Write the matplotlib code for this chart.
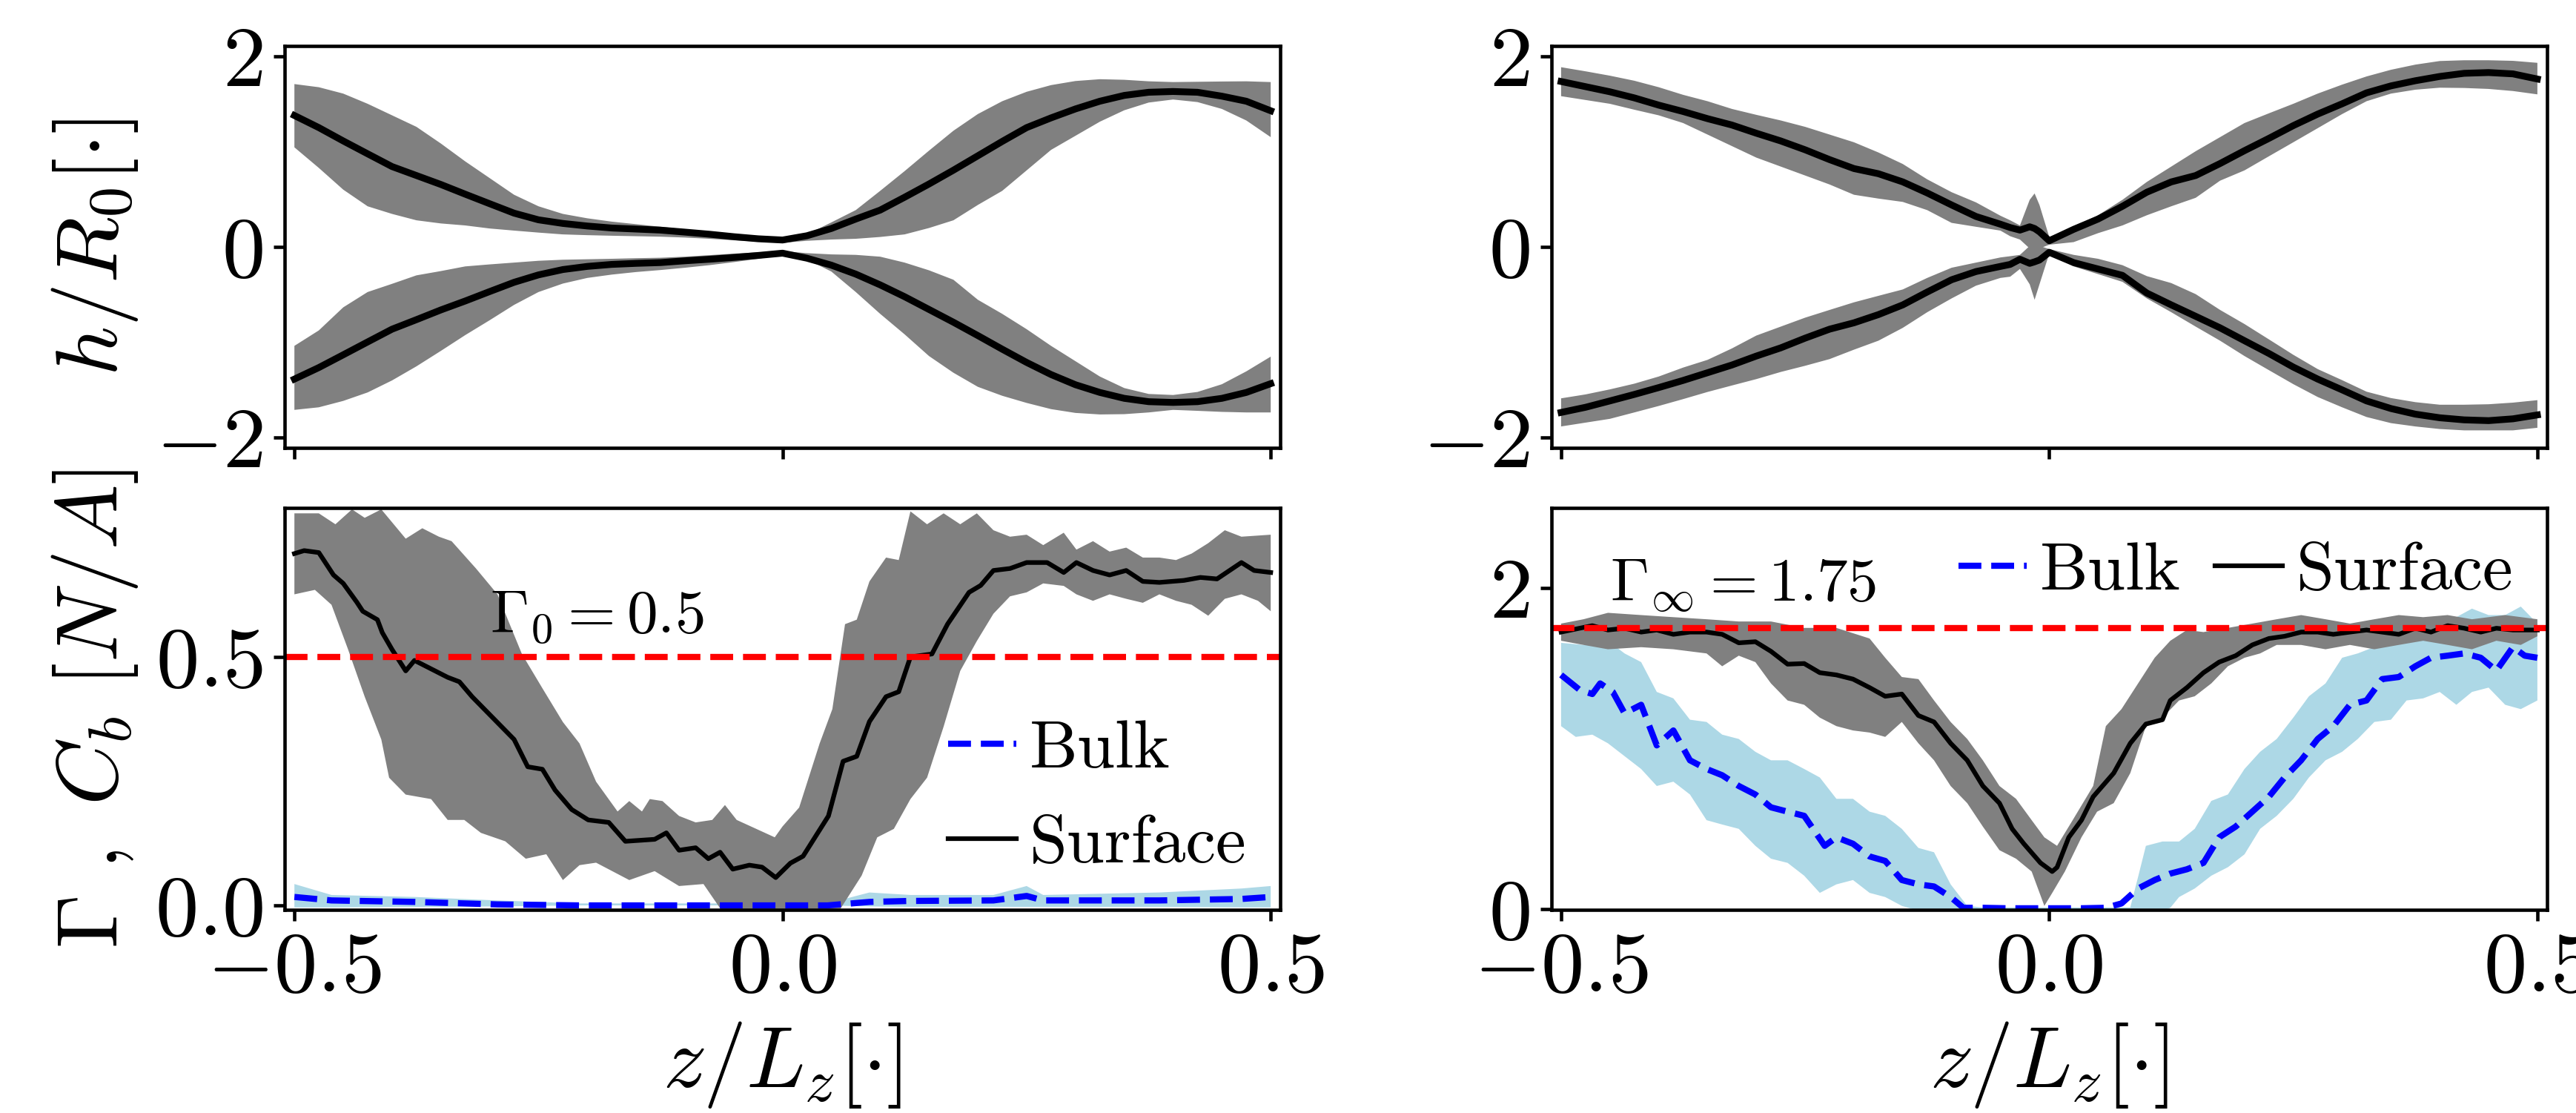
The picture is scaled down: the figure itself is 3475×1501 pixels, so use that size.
import matplotlib
matplotlib.use('Agg')
import matplotlib.pyplot as plt
import numpy as np

# latex-like look without a tex install
plt.rcParams['font.family'] = 'serif'
plt.rcParams['font.serif'] = ['cmr10', 'DejaVu Serif']
plt.rcParams['mathtext.fontset'] = 'cm'
plt.rcParams['axes.linewidth'] = 1.1
plt.rcParams['xtick.major.width'] = 1.1
plt.rcParams['ytick.major.width'] = 1.1

# ---- top left : interface shape, Gamma_0 = 0.5 ----
zL = [-0.5, -0.475, -0.45, -0.425, -0.4, -0.375, -0.35, -0.325, -0.3, -0.275, -0.25,
      -0.225, -0.2, -0.175, -0.15, -0.125, -0.1, -0.075, -0.05, -0.025, 0.0,
      0.025, 0.05, 0.075, 0.1, 0.125, 0.15, 0.175, 0.2, 0.225, 0.25,
      0.275, 0.3, 0.325, 0.35, 0.375, 0.4, 0.425, 0.45, 0.475, 0.5]
hL_up = [1.38, 1.253, 1.113, 0.978, 0.844, 0.75, 0.656, 0.554, 0.454, 0.355, 0.285,
         0.247, 0.22, 0.199, 0.188, 0.177, 0.156, 0.134, 0.108, 0.086, 0.073,
         0.118, 0.194, 0.293, 0.387, 0.522, 0.661, 0.806, 0.957, 1.108, 1.253,
         1.355, 1.449, 1.53, 1.591, 1.624, 1.632, 1.624, 1.583, 1.53, 1.43]
hL_up_hi = [1.71, 1.677, 1.61, 1.503, 1.382, 1.261, 1.086, 0.898, 0.723, 0.548, 0.427,
            0.347, 0.301, 0.266, 0.239, 0.212, 0.185, 0.164, 0.132, 0.097, 0.08,
            0.132, 0.258, 0.387, 0.589, 0.796, 1.011, 1.22, 1.395, 1.53, 1.629,
            1.699, 1.742, 1.761, 1.755, 1.739, 1.731, 1.734, 1.737, 1.739, 1.731]
hL_up_lo = [1.046, 0.83, 0.602, 0.427, 0.347, 0.28, 0.247, 0.226, 0.194, 0.172, 0.151,
            0.132, 0.124, 0.118, 0.113, 0.108, 0.099, 0.086, 0.07, 0.056, 0.043,
            0.065, 0.078, 0.086, 0.105, 0.132, 0.199, 0.28, 0.441, 0.589, 0.804,
            1.019, 1.167, 1.315, 1.435, 1.516, 1.548, 1.521, 1.449, 1.328, 1.153]
hL_dn = [-1.387, -1.266, -1.132, -0.997, -0.863, -0.763, -0.661, -0.567, -0.468, -0.371, -0.293,
         -0.237, -0.204, -0.183, -0.172, -0.164, -0.145, -0.129, -0.11, -0.089, -0.065,
         -0.118, -0.191, -0.285, -0.398, -0.522, -0.656, -0.79, -0.93, -1.073, -1.212,
         -1.339, -1.446, -1.527, -1.589, -1.624, -1.632, -1.624, -1.589, -1.527, -1.435]
hL_dn_out = [-1.71, -1.683, -1.616, -1.527, -1.401, -1.253, -1.091, -0.925, -0.769, -0.608, -0.473,
             -0.384, -0.325, -0.29, -0.263, -0.242, -0.218, -0.191, -0.159, -0.124, -0.083,
             -0.13, -0.258, -0.473, -0.702, -0.917, -1.145, -1.32, -1.468, -1.562, -1.637,
             -1.702, -1.742, -1.758, -1.755, -1.737, -1.71, -1.72, -1.731, -1.737, -1.737]
hL_dn_in = [-1.038, -0.876, -0.634, -0.473, -0.387, -0.298, -0.253, -0.204, -0.183, -0.164, -0.145,
            -0.134, -0.129, -0.124, -0.118, -0.113, -0.102, -0.086, -0.07, -0.056, -0.043,
            -0.065, -0.078, -0.083, -0.102, -0.164, -0.245, -0.344, -0.554, -0.702, -0.863,
            -1.038, -1.199, -1.36, -1.481, -1.543, -1.554, -1.522, -1.441, -1.306, -1.151]

# ---- top right : interface shape, Gamma_inf = 1.75 ----
zR = [-0.5, -0.475, -0.45, -0.425, -0.4, -0.375, -0.35, -0.325, -0.3, -0.275, -0.25,
      -0.225, -0.2, -0.175, -0.15, -0.125, -0.1, -0.075, -0.05,
      -0.04, -0.03, -0.02, -0.015, -0.01, 0.0,
      0.025, 0.05, 0.075, 0.1, 0.125, 0.15, 0.175, 0.2, 0.225, 0.25,
      0.275, 0.3, 0.325, 0.35, 0.375, 0.4, 0.425, 0.45, 0.475, 0.5]
hR_up = [1.737, 1.683, 1.629, 1.565, 1.489, 1.422, 1.347, 1.28, 1.194, 1.113, 1.02,
         0.917, 0.823, 0.769, 0.683, 0.567, 0.441, 0.32, 0.239,
         0.204, 0.177, 0.212, 0.194, 0.159, 0.065,
         0.185, 0.293, 0.427, 0.575, 0.683, 0.75, 0.876, 1.011, 1.14, 1.274,
         1.395, 1.503, 1.618, 1.691, 1.745, 1.79, 1.823, 1.831, 1.817, 1.763]
hR_up_hi = [1.887, 1.844, 1.798, 1.745, 1.677, 1.597, 1.53, 1.449, 1.387, 1.328, 1.261,
            1.18, 1.099, 0.992, 0.871, 0.71, 0.575, 0.468, 0.328,
            0.28, 0.226, 0.495, 0.562, 0.441, 0.105,
            0.212, 0.333, 0.495, 0.683, 0.844, 1.005, 1.153, 1.301, 1.403, 1.503,
            1.61, 1.704, 1.79, 1.86, 1.914, 1.952, 1.96, 1.96, 1.954, 1.933]
hR_up_lo = [1.583, 1.543, 1.503, 1.441, 1.382, 1.301, 1.18, 1.059, 0.938, 0.844, 0.75,
            0.656, 0.548, 0.508, 0.473, 0.387, 0.253, 0.212, 0.172,
            0.113, 0.078, -0.016, -0.043, -0.016, 0.024,
            0.051, 0.145, 0.226, 0.333, 0.427, 0.516, 0.696, 0.804, 0.952, 1.099,
            1.247, 1.395, 1.53, 1.61, 1.651, 1.672, 1.669, 1.659, 1.637, 1.602]
hR_dn = [-1.737, -1.683, -1.616, -1.548, -1.476, -1.401, -1.32, -1.239, -1.145, -1.059, -0.957,
         -0.863, -0.796, -0.71, -0.608, -0.473, -0.344, -0.258, -0.204,
         -0.183, -0.129, -0.172, -0.156, -0.137, -0.056,
         -0.164, -0.231, -0.298, -0.484, -0.608, -0.728, -0.849, -0.984, -1.118, -1.261,
         -1.387, -1.5, -1.616, -1.696, -1.755, -1.793, -1.815, -1.823, -1.804, -1.763]
hR_dn_out = [-1.884, -1.844, -1.804, -1.737, -1.669, -1.597, -1.522, -1.454, -1.387, -1.312, -1.247,
             -1.177, -1.078, -0.984, -0.849, -0.685, -0.54, -0.406, -0.325,
             -0.312, -0.231, -0.392, -0.554, -0.392, -0.07,
             -0.204, -0.285, -0.366, -0.54, -0.685, -0.836, -0.984, -1.145, -1.293, -1.44,
             -1.575, -1.683, -1.785, -1.849, -1.884, -1.911, -1.925, -1.925, -1.925, -1.898]
hR_dn_in = [-1.589, -1.548, -1.495, -1.435, -1.36, -1.266, -1.185, -1.065, -0.93, -0.836, -0.742,
            -0.661, -0.581, -0.513, -0.446, -0.325, -0.218, -0.164, -0.11,
            -0.097, -0.083, 0.011, 0.038, 0.011, -0.022,
            -0.083, -0.124, -0.191, -0.306, -0.379, -0.495, -0.661, -0.809, -0.97, -1.132,
            -1.282, -1.398, -1.519, -1.586, -1.629, -1.656, -1.656, -1.651, -1.634, -1.608]

# ---- bottom left : surface / bulk concentration, Gamma_0 = 0.5 ----
zs_L = [-0.5, -0.49, -0.475, -0.46, -0.45, -0.436, -0.43, -0.415, -0.41, -0.4, -0.386,
        -0.377, -0.36, -0.343, -0.331, -0.318, -0.301, -0.275, -0.261, -0.246, -0.233,
        -0.216, -0.199, -0.178, -0.161, -0.131, -0.119, -0.106, -0.089, -0.076, -0.064,
        -0.051, -0.034, -0.021, -0.007, 0.008, 0.021, 0.047, 0.062, 0.076, 0.089, 0.106,
        0.119, 0.131, 0.153, 0.169, 0.191, 0.203, 0.216, 0.233, 0.25, 0.271, 0.288, 0.301,
        0.318, 0.335, 0.352, 0.369, 0.386, 0.411, 0.428, 0.445, 0.47, 0.483, 0.5]
surf_L = [0.708, 0.714, 0.71, 0.665, 0.648, 0.61, 0.592, 0.575, 0.549, 0.515, 0.472,
          0.493, 0.476, 0.459, 0.45, 0.42, 0.386, 0.334, 0.279, 0.274, 0.232,
          0.193, 0.172, 0.167, 0.129, 0.133, 0.146, 0.111, 0.116, 0.094, 0.107,
          0.073, 0.081, 0.077, 0.056, 0.085, 0.099, 0.18, 0.29, 0.30, 0.37, 0.42,
          0.43, 0.50, 0.506, 0.566, 0.63, 0.644, 0.674, 0.678, 0.69, 0.69, 0.67, 0.69,
          0.674, 0.665, 0.674, 0.652, 0.65, 0.654, 0.66, 0.657, 0.69, 0.674, 0.67]
zs_L_hi = [-0.5, -0.475, -0.458, -0.441, -0.428, -0.411, -0.386, -0.369, -0.352, -0.339,
           -0.314, -0.292, -0.267, -0.246, -0.225, -0.208, -0.191, -0.169, -0.157, -0.144,
           -0.136, -0.123, -0.106, -0.089, -0.072, -0.059, -0.047, -0.008, 0.0, 0.017,
           0.038, 0.051, 0.064, 0.076, 0.089, 0.106, 0.119, 0.131, 0.148, 0.165, 0.182,
           0.199, 0.216, 0.233, 0.25, 0.267, 0.288, 0.301, 0.318, 0.335, 0.352, 0.369,
           0.386, 0.403, 0.419, 0.436, 0.453, 0.47, 0.5]
surf_L_hi = [0.789, 0.789, 0.767, 0.797, 0.78, 0.797, 0.738, 0.759, 0.742, 0.733,
             0.678, 0.626, 0.506, 0.437, 0.369, 0.326, 0.249, 0.189, 0.21, 0.189,
             0.214, 0.21, 0.18, 0.167, 0.172, 0.202, 0.172, 0.137, 0.159, 0.197,
             0.326, 0.395, 0.566, 0.575, 0.652, 0.70, 0.695, 0.793, 0.767, 0.789, 0.767,
             0.789, 0.755, 0.742, 0.746, 0.725, 0.75, 0.716, 0.733, 0.712, 0.72, 0.70,
             0.70, 0.695, 0.708, 0.729, 0.755, 0.742, 0.746]
zs_L_lo = [-0.5, -0.479, -0.462, -0.445, -0.428, -0.411, -0.403, -0.386, -0.36, -0.343,
           -0.326, -0.309, -0.284, -0.263, -0.242, -0.225, -0.208, -0.191, -0.157, -0.131,
           -0.106, -0.081, -0.059, 0.055, 0.081, 0.097, 0.114, 0.131, 0.148, 0.165,
           0.182, 0.199, 0.216, 0.233, 0.25, 0.267, 0.288, 0.301, 0.318, 0.335, 0.352,
           0.369, 0.386, 0.403, 0.419, 0.436, 0.453, 0.47, 0.487, 0.5]
surf_L_lo = [0.626, 0.635, 0.605, 0.515, 0.42, 0.334, 0.257, 0.223, 0.214, 0.172,
             0.172, 0.146, 0.129, 0.094, 0.103, 0.051, 0.081, 0.086, 0.051, 0.069,
             0.039, 0.043, -0.02, -0.02, 0.06, 0.137, 0.154, 0.214, 0.257, 0.36,
             0.472, 0.532, 0.587, 0.622, 0.63, 0.648, 0.643, 0.626, 0.613, 0.626, 0.617,
             0.609, 0.626, 0.613, 0.605, 0.583, 0.617, 0.626, 0.613, 0.592]
zb_L = [-0.5, -0.462, -0.377, -0.292, -0.208, -0.123, -0.04, 0.046, 0.089, 0.131, 0.216,
        0.25, 0.267, 0.386, 0.47, 0.5]
bulk_L = [0.017, 0.01, 0.007, 0.002, 0.0, 0.0, 0.0, 0.0, 0.007, 0.009, 0.01,
          0.019, 0.01, 0.01, 0.013, 0.017]
bulk_L_hi = [0.043, 0.021, 0.017, 0.01, 0.004, 0.004, 0.004, 0.004, 0.026, 0.021, 0.021,
             0.039, 0.021, 0.026, 0.034, 0.039]
bulk_L_lo = [-0.004, -0.004, -0.003, -0.002, 0.0, 0.0, 0.0, 0.0, -0.002, -0.003, -0.003,
             -0.003, -0.003, -0.003, -0.004, -0.004]

# ---- bottom right : surface / bulk concentration, Gamma_inf = 1.75 ----
zs_R = [-0.5, -0.481, -0.468, -0.452, -0.435, -0.418, -0.402, -0.385, -0.368, -0.351,
        -0.335, -0.318, -0.301, -0.285, -0.268, -0.251, -0.235, -0.218, -0.201, -0.184,
        -0.168, -0.151, -0.134, -0.118, -0.101, -0.084, -0.068, -0.051, -0.038, -0.026,
        -0.009, 0.003, 0.008, 0.02, 0.033, 0.045, 0.066, 0.083, 0.099, 0.116, 0.124,
        0.141, 0.158, 0.174, 0.191, 0.208, 0.225, 0.241, 0.258, 0.275, 0.291, 0.308,
        0.325, 0.341, 0.358, 0.375, 0.391, 0.408, 0.425, 0.442, 0.458, 0.475, 0.5]
surf_R = [1.726, 1.75, 1.766, 1.739, 1.75, 1.726, 1.739, 1.712, 1.726, 1.726,
          1.712, 1.659, 1.666, 1.606, 1.526, 1.53, 1.473, 1.459, 1.433, 1.38,
          1.326, 1.34, 1.206, 1.166, 1.033, 0.927, 0.767, 0.66, 0.50, 0.407,
          0.288, 0.234, 0.26, 0.447, 0.554, 0.70, 0.847, 1.033, 1.153, 1.18, 1.30,
          1.38, 1.473, 1.539, 1.579, 1.646, 1.686, 1.70, 1.726, 1.726, 1.712, 1.726,
          1.739, 1.726, 1.712, 1.75, 1.726, 1.766, 1.75, 1.726, 1.75, 1.739, 1.739]
zs_R_hi = [-0.5, -0.477, -0.452, -0.418, -0.385, -0.351, -0.318, -0.285, -0.251, -0.218,
           -0.184, -0.168, -0.151, -0.134, -0.118, -0.101, -0.084, -0.068, -0.051, -0.034,
           -0.018, -0.005, 0.008, 0.024, 0.045, 0.058, 0.074, 0.091, 0.108, 0.124, 0.141,
           0.158, 0.183, 0.208, 0.233, 0.258, 0.283, 0.308, 0.333, 0.358, 0.383, 0.408,
           0.433, 0.467, 0.5]
surf_R_hi = [1.779, 1.806, 1.846, 1.832, 1.819, 1.806, 1.792, 1.792, 1.752, 1.752,
             1.686, 1.566, 1.446, 1.433, 1.30, 1.166, 1.06, 0.927, 0.767, 0.687,
             0.554, 0.447, 0.394, 0.554, 0.767, 1.14, 1.246, 1.406, 1.566, 1.672, 1.739,
             1.726, 1.752, 1.779, 1.806, 1.832, 1.806, 1.779, 1.806, 1.832, 1.819, 1.832,
             1.806, 1.832, 1.806]
zs_R_lo = [-0.5, -0.477, -0.452, -0.418, -0.385, -0.351, -0.335, -0.318, -0.301, -0.285,
           -0.268, -0.251, -0.235, -0.218, -0.201, -0.184, -0.168, -0.151, -0.134, -0.118,
           -0.101, -0.084, -0.068, -0.051, -0.034, -0.018, -0.005, 0.003, 0.016, 0.033,
           0.049, 0.066, 0.083, 0.099, 0.116, 0.133, 0.149, 0.166, 0.183, 0.2, 0.216,
           0.233, 0.258, 0.283, 0.308, 0.333, 0.358, 0.383, 0.408, 0.433, 0.458, 0.483, 0.5]
surf_R_lo = [1.672, 1.646, 1.619, 1.632, 1.619, 1.593, 1.513, 1.579, 1.539, 1.406,
             1.30, 1.273, 1.193, 1.14, 1.113, 1.10, 1.073, 1.166, 1.033, 0.927,
             0.767, 0.66, 0.514, 0.367, 0.314, 0.234, 0.02, 0.10, 0.234, 0.447,
             0.607, 0.66, 0.847, 1.14, 1.193, 1.30, 1.326, 1.406, 1.513, 1.566, 1.593,
             1.646, 1.646, 1.619, 1.646, 1.619, 1.646, 1.672, 1.646, 1.619, 1.672, 1.646, 1.70]
zb_R = [-0.5, -0.481, -0.468, -0.46, -0.447, -0.435, -0.418, -0.402, -0.385, -0.368,
        -0.351, -0.335, -0.318, -0.301, -0.285, -0.268, -0.251, -0.23, -0.218, -0.201,
        -0.184, -0.168, -0.151, -0.134, -0.118, -0.101, -0.088, -0.068, -0.043, -0.018,
        0.008, 0.033, 0.058, 0.074, 0.091, 0.108, 0.124, 0.141, 0.158, 0.174, 0.191,
        0.208, 0.225, 0.241, 0.258, 0.275, 0.291, 0.308, 0.325, 0.341, 0.358, 0.375,
        0.391, 0.408, 0.425, 0.442, 0.458, 0.475, 0.487, 0.5]
bulk_R = [1.459, 1.366, 1.34, 1.406, 1.353, 1.22, 1.273, 1.02, 1.113, 0.927,
          0.873, 0.834, 0.767, 0.714, 0.634, 0.607, 0.581, 0.394, 0.447, 0.407,
          0.328, 0.30, 0.181, 0.154, 0.141, 0.075, 0.008, 0.008, 0.005, 0.005,
          0.005, 0.005, 0.008, 0.035, 0.128, 0.181, 0.221, 0.248, 0.288, 0.447, 0.514,
          0.607, 0.70, 0.82, 0.927, 1.06, 1.14, 1.273, 1.30, 1.433, 1.446, 1.513,
          1.566, 1.579, 1.593, 1.566, 1.486, 1.633, 1.579, 1.566]
zb_R_hi = [-0.5, -0.477, -0.452, -0.435, -0.418, -0.402, -0.385, -0.368, -0.351, -0.335,
           -0.318, -0.301, -0.285, -0.268, -0.251, -0.235, -0.218, -0.201, -0.184, -0.168,
           -0.151, -0.134, -0.118, -0.101, -0.084, -0.068, 0.083, 0.091, 0.099, 0.116,
           0.133, 0.149, 0.166, 0.183, 0.2, 0.216, 0.233, 0.25, 0.266, 0.283, 0.3,
           0.316, 0.333, 0.35, 0.366, 0.383, 0.4, 0.417, 0.433, 0.45, 0.467, 0.483, 0.5]
bulk_R_hi = [1.659, 1.646, 1.672, 1.593, 1.539, 1.353, 1.313, 1.18, 1.166, 1.087,
             1.06, 0.98, 0.927, 0.927, 0.873, 0.82, 0.687, 0.687, 0.607, 0.581,
             0.50, 0.381, 0.354, 0.154, 0.02, 0.01, 0.01, 0.2, 0.394, 0.421,
             0.421, 0.50, 0.674, 0.714, 0.873, 0.98, 1.06, 1.193, 1.326, 1.406, 1.566,
             1.593, 1.633, 1.686, 1.70, 1.726, 1.779, 1.819, 1.872, 1.832, 1.832, 1.885, 1.779]
zb_R_lo = [-0.5, -0.485, -0.468, -0.452, -0.435, -0.418, -0.402, -0.385, -0.368, -0.351,
           -0.335, -0.318, -0.301, -0.285, -0.268, -0.251, -0.235, -0.218, -0.201, -0.184,
           -0.168, -0.151, -0.134, 0.116, 0.124, 0.133, 0.149, 0.166, 0.183, 0.2,
           0.216, 0.233, 0.25, 0.266, 0.283, 0.3, 0.316, 0.333, 0.35, 0.366, 0.383,
           0.4, 0.417, 0.433, 0.45, 0.467, 0.483, 0.5]
bulk_R_lo = [1.14, 1.073, 1.087, 1.033, 0.953, 0.873, 0.767, 0.794, 0.714, 0.554,
             0.527, 0.50, 0.394, 0.314, 0.288, 0.208, 0.101, 0.154, 0.181, 0.101,
             0.075, 0.02, -0.01, -0.01, 0.008, 0.075, 0.128, 0.208, 0.261, 0.341,
             0.50, 0.581, 0.687, 0.82, 0.927, 0.98, 1.06, 1.166, 1.18, 1.30, 1.313,
             1.353, 1.273, 1.353, 1.38, 1.273, 1.246, 1.30]

gamma0 = 0.5
gamma_inf = 1.75

GREY = 'gray'
LBLUE = 'lightblue'


def band(ax, z_hi, hi, z_lo, lo, color):
    # closed polygon: upper edge left->right, lower edge right->left
    ax.fill(np.r_[z_hi, z_lo[::-1]], np.r_[hi, lo[::-1]], color=color, lw=0)


fig, axs = plt.subplots(2, 2, figsize=(3475 / 300, 1501 / 300), dpi=300)
fig.subplots_adjust(left=0.1105, right=0.9888, bottom=0.1825, top=0.9587,
                    wspace=0.272, hspace=0.149)

xt = [-0.5, 0.0, 0.5]
xtl = [r'$-0.5$', r'$0.0$', r'$0.5$']

# top left
ax = axs[0, 0]
band(ax, zL, hL_up_hi, zL, hL_up_lo, GREY)
band(ax, zL, hL_dn_in, zL, hL_dn_out, GREY)
ax.plot(zL, hL_up, 'k-', lw=2.2)
ax.plot(zL, hL_dn, 'k-', lw=2.2)
ax.set_ylabel(r'$h/R_0[\cdot]$', fontsize=28)

# top right
ax = axs[0, 1]
band(ax, zR, hR_up_hi, zR, hR_up_lo, GREY)
band(ax, zR, hR_dn_in, zR, hR_dn_out, GREY)
ax.plot(zR, hR_up, 'k-', lw=2.2)
ax.plot(zR, hR_dn, 'k-', lw=2.2)

for ax in axs[0]:
    ax.set_xlim(-0.51, 0.51)
    ax.set_ylim(-2.11, 2.11)
    ax.set_xticks(xt)
    ax.set_xticklabels([])
    ax.set_yticks([-2, 0, 2])
    ax.set_yticklabels([r'$-2$', r'$0$', r'$2$'], fontsize=28)

# bottom left
ax = axs[1, 0]
band(ax, zb_L, bulk_L_hi, zb_L, bulk_L_lo, LBLUE)
band(ax, zs_L_hi, surf_L_hi, zs_L_lo, surf_L_lo, GREY)
ax.plot(zb_L, bulk_L, 'b--', lw=2, label='Bulk')
ax.plot(zs_L, surf_L, 'k-', lw=1.5, label='Surface')
ax.axhline(gamma0, color='r', ls='--', lw=2)
ax.text(-0.3, 0.55, r'$\Gamma_0 = 0.5$', fontsize=20)
ax.set_ylim(-0.009, 0.8)
ax.set_yticks([0.0, 0.5])
ax.set_yticklabels([r'$0.0$', r'$0.5$'], fontsize=28)
ax.set_ylabel(r'$\Gamma\ ,\ C_b\ [N/A]$', fontsize=28)
ax.legend(loc='lower right', frameon=False, fontsize=22, handlelength=1.0,
          handletextpad=0.2, borderaxespad=0.1)

# bottom right
ax = axs[1, 1]
band(ax, zb_R_hi, bulk_R_hi, zb_R_lo, bulk_R_lo, LBLUE)
band(ax, zs_R_hi, surf_R_hi, zs_R_lo, surf_R_lo, GREY)
ax.plot(zb_R, bulk_R, 'b--', lw=2, label='Bulk')
ax.plot(zs_R, surf_R, 'k-', lw=1.5, label='Surface')
ax.axhline(gamma_inf, color='r', ls='--', lw=2)
ax.text(-0.45, 1.92, r'$\Gamma_\infty = 1.75$', fontsize=20)
ax.set_ylim(-0.005, 2.5)
ax.set_yticks([0, 2])
ax.set_yticklabels([r'$0$', r'$2$'], fontsize=28)
ax.legend(loc='upper right', ncol=2, frameon=False, fontsize=22, handlelength=1.0,
          handletextpad=0.2, columnspacing=0.5, borderaxespad=0.1)

for ax in axs[1]:
    ax.set_xlim(-0.51, 0.51)
    ax.set_xticks(xt)
    ax.set_xticklabels(xtl, fontsize=28)
    ax.set_xlabel(r'$z/L_z[\cdot]$', fontsize=28)

for ax in axs[:, 0]:
    ax.yaxis.set_label_coords(-0.145, 0.5)

fig.savefig('out.png', dpi=300)
